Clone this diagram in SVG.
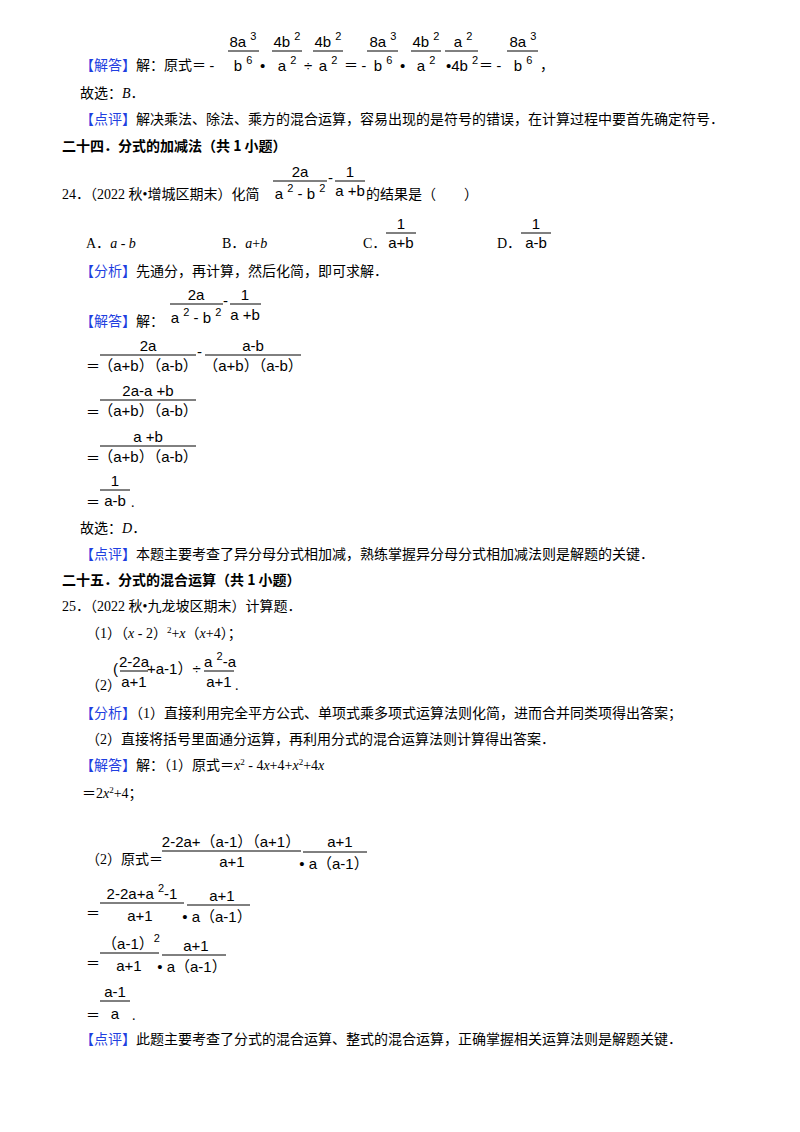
<svg xmlns="http://www.w3.org/2000/svg" width="800" height="1132" viewBox="0 0 800 1132">
<style>
text{font-family:"Liberation Serif","Noto Sans CJK SC",serif;font-size:14px;fill:#000}
.m{font-family:"Liberation Sans","Noto Sans CJK SC",sans-serif;font-size:15px}
.c{text-anchor:middle}
.b{font-weight:bold;font-family:"Noto Sans CJK SC",sans-serif}
.bl{fill:#1f3fe0}
.s{font-size:11px}
line{stroke:#000;stroke-width:1}
</style>
<rect width="800" height="1132" fill="#fff"/>
<text x="80" y="70"><tspan class="bl">【解答】</tspan>解：原式＝ -</text>
<g id="eq1">
<text class="m c" x="243" y="47">8a <tspan dy="-7" class="s">3</tspan></text><line x1="228" y1="51" x2="259" y2="51"/><text class="m c" x="243" y="71">b <tspan dy="-7" class="s">6</tspan></text>
<text class="m" x="260" y="71">•</text>
<text class="m c" x="287" y="47">4b <tspan dy="-7" class="s">2</tspan></text><line x1="272" y1="51" x2="302" y2="51"/><text class="m c" x="287" y="71">a <tspan dy="-7" class="s">2</tspan></text>
<text class="m" x="304" y="71">÷</text>
<text class="m c" x="328" y="47">4b <tspan dy="-7" class="s">2</tspan></text><line x1="313" y1="51" x2="343" y2="51"/><text class="m c" x="328" y="71">a <tspan dy="-7" class="s">2</tspan></text>
<text x="344" y="70">＝ -</text>
<text class="m c" x="383" y="47">8a <tspan dy="-7" class="s">3</tspan></text><line x1="367" y1="51" x2="398" y2="51"/><text class="m c" x="383" y="71">b <tspan dy="-7" class="s">6</tspan></text>
<text class="m" x="400" y="71">•</text>
<text class="m c" x="426" y="47">4b <tspan dy="-7" class="s">2</tspan></text><line x1="411" y1="51" x2="441" y2="51"/><text class="m c" x="426" y="71">a <tspan dy="-7" class="s">2</tspan></text>
<text class="m c" x="463" y="47">a <tspan dy="-7" class="s">2</tspan></text><line x1="445" y1="51" x2="478" y2="51"/><text class="m c" x="462" y="71">•4b <tspan dy="-7" class="s">2</tspan></text>
<text x="479" y="70">＝ -</text>
<text class="m c" x="523" y="47">8a <tspan dy="-7" class="s">3</tspan></text><line x1="507" y1="51" x2="538" y2="51"/><text class="m c" x="523" y="71">b <tspan dy="-7" class="s">6</tspan></text>
<text x="540" y="70">，</text>
</g>
<text x="80" y="98">故选：<tspan font-style="italic">B</tspan>．</text>
<text x="80" y="124"><tspan class="bl">【点评】</tspan>解决乘法、除法、乘方的混合运算，容易出现的是符号的错误，在计算过程中要首先确定符号．</text>
<text class="b" x="62" y="151">二十四．分式的加减法（共 1 小题）</text>
<text x="62" y="199">24．（2022 秋•增城区期末）化简</text>
<text class="m c" x="300" y="177">2a</text><line x1="273" y1="181" x2="327" y2="181"/><text class="m c" x="300" y="199">a <tspan dy="-7" class="s">2</tspan><tspan dy="7"> - b </tspan><tspan dy="-7" class="s">2</tspan></text>
<text class="m" x="328" y="183">-</text>
<text class="m c" x="350" y="177">1</text><line x1="335" y1="181" x2="365" y2="181"/><text class="m c" x="350" y="196">a +b</text>
<text x="366" y="199">的结果是（　　）</text>
<text x="86" y="248">A．<tspan font-style="italic">a</tspan> - <tspan font-style="italic">b</tspan></text>
<text x="222" y="248">B．<tspan font-style="italic">a</tspan>+<tspan font-style="italic">b</tspan></text>
<text x="363" y="248">C．</text>
<text class="m c" x="401" y="229">1</text><line x1="386" y1="233" x2="416" y2="233"/><text class="m c" x="401" y="248">a+b</text>
<text x="497" y="248">D．</text>
<text class="m c" x="536" y="229">1</text><line x1="521" y1="233" x2="551" y2="233"/><text class="m c" x="536" y="248">a-b</text>
<text x="80" y="276"><tspan class="bl">【分析】</tspan>先通分，再计算，然后化简，即可求解．</text>
<text x="80" y="326"><tspan class="bl">【解答】</tspan>解：</text>
<text class="m c" x="196" y="300">2a</text><line x1="170" y1="304" x2="223" y2="304"/><text class="m c" x="196" y="323">a <tspan dy="-7" class="s">2</tspan><tspan dy="7"> - b </tspan><tspan dy="-7" class="s">2</tspan></text>
<text class="m" x="223" y="306">-</text>
<text class="m c" x="245" y="300">1</text><line x1="230" y1="304" x2="261" y2="304"/><text class="m c" x="245" y="320">a +b</text>
<text x="86" y="371">＝</text>
<text class="m c" x="148" y="351">2a</text><line x1="100" y1="355" x2="196" y2="355"/><text class="m c" x="148" y="371">（a+b）（a-b）</text>
<text class="m" x="197" y="357">-</text>
<text class="m c" x="253" y="351">a-b</text><line x1="205" y1="355" x2="301" y2="355"/><text class="m c" x="253" y="371">（a+b）（a-b）</text>
<text x="86" y="417">＝</text>
<text class="m c" x="148" y="396">2a-a +b</text><line x1="100" y1="400" x2="196" y2="400"/><text class="m c" x="148" y="416">（a+b）（a-b）</text>
<text x="86" y="463">＝</text>
<text class="m c" x="148" y="442">a +b</text><line x1="100" y1="446" x2="196" y2="446"/><text class="m c" x="148" y="462">（a+b）（a-b）</text>
<text x="86" y="507">＝</text>
<text class="m c" x="115" y="486">1</text><line x1="100" y1="490" x2="130" y2="490"/><text class="m c" x="115" y="506">a-b</text>
<text x="131" y="507">.</text>
<text x="80" y="533">故选：<tspan font-style="italic">D</tspan>．</text>
<text x="80" y="559"><tspan class="bl">【点评】</tspan>本题主要考查了异分母分式相加减，熟练掌握异分母分式相加减法则是解题的关键．</text>
<text class="b" x="62" y="585">二十五．分式的混合运算（共 1 小题）</text>
<text x="62" y="611">25．（2022 秋•九龙坡区期末）计算题．</text>
<text x="86" y="638">（1）（<tspan font-style="italic">x</tspan> - 2）<tspan dy="-5" font-size="9">2</tspan><tspan dy="5">+</tspan><tspan font-style="italic">x</tspan>（<tspan font-style="italic">x</tspan>+4）；</text>
<text x="86" y="690">（2）</text>
<text class="m" x="113" y="674">(</text>
<text class="m c" x="134" y="667">2-2a</text><line x1="120" y1="671" x2="148" y2="671"/><text class="m c" x="134" y="687">a+1</text>
<text class="m" x="147" y="674">+a-1）÷</text>
<text class="m c" x="220" y="667">a <tspan dy="-7" class="s">2</tspan><tspan dy="7">-a</tspan></text><line x1="204" y1="671" x2="234" y2="671"/><text class="m c" x="219" y="687">a+1</text>
<text x="235" y="690">.</text>
<text x="80" y="718"><tspan class="bl">【分析】</tspan>（1）直接利用完全平方公式、单项式乘多项式运算法则化简，进而合并同类项得出答案；</text>
<text x="86" y="744">（2）直接将括号里面通分运算，再利用分式的混合运算法则计算得出答案．</text>
<text x="80" y="770"><tspan class="bl">【解答】</tspan>解：（1）原式＝<tspan font-style="italic">x</tspan><tspan dy="-5" font-size="9">2</tspan><tspan dy="5"> - 4</tspan><tspan font-style="italic">x</tspan>+4+<tspan font-style="italic">x</tspan><tspan dy="-5" font-size="9">2</tspan><tspan dy="5">+4</tspan><tspan font-style="italic">x</tspan></text>
<text x="82" y="798">＝2<tspan font-style="italic">x</tspan><tspan dy="-5" font-size="9">2</tspan><tspan dy="5">+4；</tspan></text>
<text x="86" y="864">（2）原式＝</text>
<text class="m c" x="231" y="847">2-2a+（a-1）（a+1）</text><line x1="162" y1="851" x2="301" y2="851"/><text class="m c" x="232" y="867">a+1</text>
<text class="m c" x="340" y="847">a+1</text><line x1="303" y1="852" x2="367" y2="852"/><text class="m c" x="334" y="869">• a（a-1）</text>
<text x="86" y="918">＝</text>
<text class="m c" x="142" y="899">2-2a+a <tspan dy="-7" class="s">2</tspan><tspan dy="7">-1</tspan></text><line x1="100" y1="903" x2="184" y2="903"/><text class="m c" x="140" y="921">a+1</text>
<text class="m c" x="222" y="901">a+1</text><line x1="187" y1="905" x2="250" y2="905"/><text class="m c" x="217" y="922">• a（a-1）</text>
<text x="86" y="968">＝</text>
<text class="m c" x="131" y="949">（a-1）<tspan dy="-7" class="s">2</tspan></text><line x1="100" y1="953" x2="159" y2="953"/><text class="m c" x="129" y="971">a+1</text>
<text class="m c" x="196" y="951">a+1</text><line x1="162" y1="955" x2="226" y2="955"/><text class="m c" x="192" y="972">• a（a-1）</text>
<text x="86" y="1020">＝</text>
<text class="m c" x="115" y="997">a-1</text><line x1="100" y1="1001" x2="130" y2="1001"/><text class="m c" x="115" y="1019">a</text>
<text x="132" y="1020">.</text>
<text x="80" y="1044"><tspan class="bl">【点评】</tspan>此题主要考查了分式的混合运算、整式的混合运算，正确掌握相关运算法则是解题关键．</text>
</svg>
